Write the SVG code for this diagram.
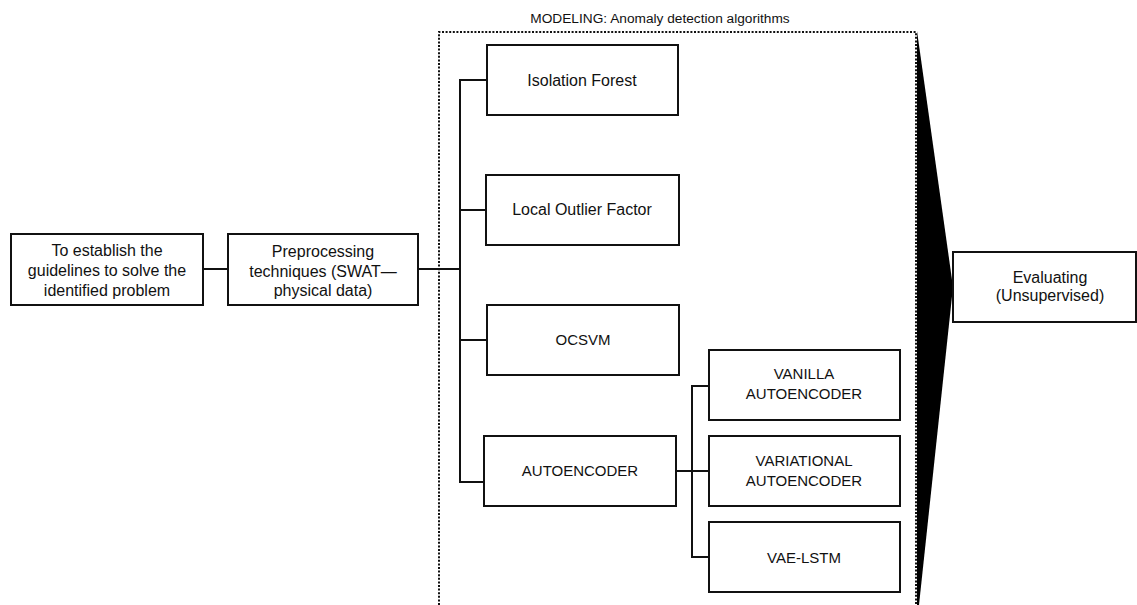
<svg xmlns="http://www.w3.org/2000/svg" width="1137" height="605" viewBox="0 0 1137 605">
<style>
.box{fill:#fff;stroke:#111;stroke-width:2}
.t{font-family:"Liberation Sans",Arial,sans-serif;font-size:16px;fill:#111;text-anchor:middle}
.c{font-size:15px}
.ln{fill:none;stroke:#111;stroke-width:2}
.dot{fill:none;stroke:#111;stroke-width:2;stroke-dasharray:2 1.6}
</style>
<rect width="1137" height="605" fill="#fff"/>
<g id="modeling-frame">
<path class="dot" d="M439,605 V32 H916 V605"/>
<text class="t" x="660" y="23" style="font-size:13.7px">MODELING: Anomaly detection algorithms</text>
</g>
<g id="wedge">
<polygon points="917,31 953,287 919,605 917,605" fill="#000"/>
</g>
<g id="connectors">
<path class="ln" d="M203,269 H228"/>
<path class="ln" d="M418,269 H460"/>
<path class="ln" d="M487,80 H460 V482 H484"/>
<path class="ln" d="M460,210 H486"/>
<path class="ln" d="M460,340 H487"/>
<path class="ln" d="M676,471 H709"/>
<path class="ln" d="M709,386 H692 V557 H709"/>
</g>
<g id="n-guidelines">
<rect class="box" x="11" y="234" width="192" height="71"/>
<text class="t" x="107" y="256">To establish the</text>
<text class="t" x="107" y="276">guidelines to solve the</text>
<text class="t" x="107" y="296">identified problem</text>
</g>
<g id="n-preprocessing">
<rect class="box" x="228" y="234" width="190" height="71"/>
<text class="t" x="323" y="257">Preprocessing</text>
<text class="t" x="323" y="277">techniques (SWAT—</text>
<text class="t" x="323" y="296">physical data)</text>
</g>
<g id="n-isolation">
<rect class="box" x="487" y="45" width="191" height="70"/>
<text class="t" x="582" y="86">Isolation Forest</text>
</g>
<g id="n-lof">
<rect class="box" x="486" y="175" width="193" height="70"/>
<text class="t" x="582" y="215">Local Outlier Factor</text>
</g>
<g id="n-ocsvm">
<rect class="box" x="487" y="305" width="192" height="70"/>
<text class="t c" x="583" y="345">OCSVM</text>
</g>
<g id="n-autoencoder">
<rect class="box" x="484" y="436" width="192" height="70"/>
<text class="t c" x="580" y="476">AUTOENCODER</text>
</g>
<g id="n-vanilla">
<rect class="box" x="709" y="350" width="191" height="70"/>
<text class="t c" x="804" y="379">VANILLA</text>
<text class="t c" x="804" y="399">AUTOENCODER</text>
</g>
<g id="n-variational">
<rect class="box" x="709" y="436" width="191" height="70"/>
<text class="t c" x="804" y="466">VARIATIONAL</text>
<text class="t c" x="804" y="486">AUTOENCODER</text>
</g>
<g id="n-vaelstm">
<rect class="box" x="709" y="522" width="191" height="70"/>
<text class="t c" x="804" y="563">VAE-LSTM</text>
</g>
<g id="n-evaluating">
<rect class="box" x="953" y="252" width="183" height="70"/>
<text class="t" x="1050" y="283">Evaluating</text>
<text class="t" x="1050" y="301">(Unsupervised)</text>
</g>
</svg>
